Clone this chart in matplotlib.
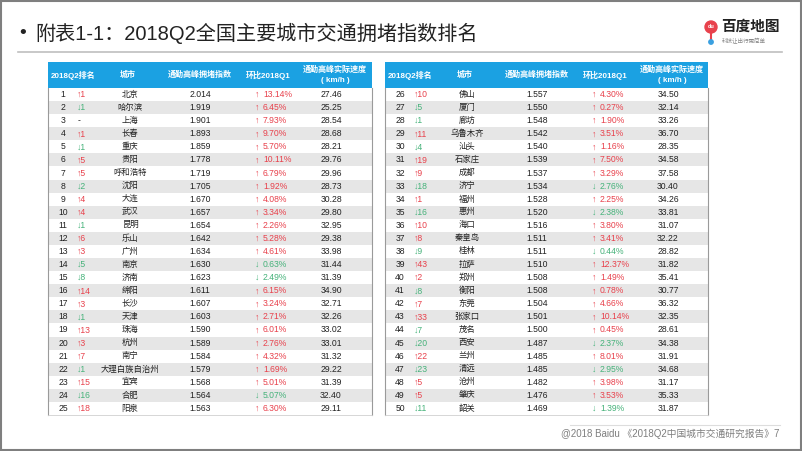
import matplotlib.pyplot as plt
from matplotlib.patches import Rectangle, Circle

plt.rcParams['font.family'] = ['Liberation Sans', 'Noto Sans CJK SC', 'DejaVu Sans']

title = "附表1-1：2018Q2全国主要城市交通拥堵指数排名"
headers = ["2018Q2排名", "城市", "通勤高峰拥堵指数", "环比2018Q1", "通勤高峰实际速度\n( km/h )"]
footer = "@2018 Baidu 《2018Q2中国城市交通研究报告》7"

ranks = list(range(1, 51))
rank_change = [1, -1, 0, 1, -1, 5, 5, -2, 4, 4, -1, 6, 3, -5, -8, 14, 3, -1, 13, 3, 7, -1, 15, -16, 18,
               10, -5, -1, 11, -4, 19, 9, -18, 1, -16, 10, 8, -9, 43, 2, -8, 7, 33, -7, -20, 22, -23, 5, 5, -11]
cities = ["北京", "哈尔滨", "上海", "长春", "重庆", "贵阳", "呼和浩特", "沈阳", "大连", "武汉",
          "昆明", "乐山", "广州", "南京", "济南", "绵阳", "长沙", "天津", "珠海", "杭州",
          "南宁", "大理白族自治州", "宜宾", "合肥", "阳泉",
          "佛山", "厦门", "廊坊", "乌鲁木齐", "汕头", "石家庄", "成都", "济宁", "福州", "惠州",
          "海口", "秦皇岛", "桂林", "拉萨", "郑州", "衡阳", "东莞", "张家口", "茂名", "西安",
          "兰州", "清远", "沧州", "肇庆", "韶关"]
jam_index = [2.014, 1.919, 1.901, 1.893, 1.859, 1.778, 1.719, 1.705, 1.670, 1.657,
             1.654, 1.642, 1.634, 1.630, 1.623, 1.611, 1.607, 1.603, 1.590, 1.589,
             1.584, 1.579, 1.568, 1.564, 1.563,
             1.557, 1.550, 1.548, 1.542, 1.540, 1.539, 1.537, 1.534, 1.528, 1.520,
             1.516, 1.511, 1.511, 1.510, 1.508, 1.508, 1.504, 1.501, 1.500, 1.487,
             1.485, 1.485, 1.482, 1.476, 1.469]
qoq = [13.14, 6.45, 7.93, 9.70, 5.70, 10.11, 6.79, 1.92, 4.08, 3.34,
       2.26, 5.28, 4.61, -0.63, -2.49, 6.15, 3.24, 2.71, 6.01, 2.76,
       4.32, 1.69, 5.01, -5.07, 6.30,
       4.30, 0.27, 1.90, 3.51, 1.16, 7.50, 3.29, -2.76, 2.25, -2.38,
       3.80, 3.41, -0.44, 12.37, 1.49, 0.78, 4.66, 10.14, 0.45, -2.37,
       8.01, -2.95, 3.98, 3.53, -1.39]
speed = [27.46, 25.25, 28.54, 28.68, 28.21, 29.76, 29.96, 28.73, 30.28, 29.80,
         32.95, 29.38, 33.98, 31.44, 31.39, 34.90, 32.71, 32.26, 33.02, 33.01,
         31.32, 29.22, 31.39, 32.40, 29.11,
         34.50, 32.14, 33.26, 36.70, 28.35, 34.58, 37.58, 30.40, 34.26, 33.81,
         31.07, 32.22, 28.82, 31.82, 35.41, 30.77, 36.32, 32.35, 28.61, 34.38,
         31.91, 34.68, 31.17, 35.33, 31.87]

BLUE = "#1ba1e2"
RED = "#e8414c"
GREEN = "#46b27a"
GRAY_ROW = "#e6e6e6"

fig = plt.figure(figsize=(8.02, 4.51), dpi=100)
ax = fig.add_axes([0, 0, 1, 1])
ax.set_xlim(0, 802)
ax.set_ylim(451, 0)
ax.axis("off")

# slide frame
ax.add_patch(Rectangle((0.8, 0.8), 800.4, 449.4, fill=False, ec="#7f7f7f", lw=1.5))

# title
ax.text(19, 33, "•", fontsize=14, va="center", ha="left", color="#222222")
ax.text(35, 33, title, fontsize=14.5, va="center", ha="left", color="#222222")
ax.plot([18, 782], [52, 52], color="#bfbfbf", lw=1.2)

# logo
ax.add_patch(Circle((711, 27), 6, color="#e8414c", zorder=3))
ax.plot([711, 711], [32, 42], color="#e8414c", lw=1.5)
ax.add_patch(Circle((711, 42), 2.2, color="#3aa0e0", zorder=3))
ax.text(711, 27, "du", fontsize=4, color="white", ha="center", va="center", zorder=4, fontweight="bold")
ax.text(721, 27, "百度地图", fontsize=10.5, fontweight="bold", ha="left", va="center", color="#222222")
ax.text(722, 41, "科技让出行更简单", fontsize=4, ha="left", va="center", color="#888888")

head_top, head_bot = 62, 88
row_h = 13.08
tables = [(48, 324, 0), (385, 323, 25)]
head_x = [25, 80, 152, 220, 287]

for x0, w, start in tables:
    ax.add_patch(Rectangle((x0, head_top), w, head_bot - head_top, color=BLUE, lw=0))
    for hx, h in zip(head_x, headers):
        ax.text(x0 + hx, (head_top + head_bot) / 2, h, fontsize=5.8, fontweight="bold",
                color="white", ha="center", va="center", linespacing=1.6)
    for k in range(25):
        i = start + k
        top = head_bot + k * row_h
        yc = top + row_h / 2
        if k % 2 == 1:
            ax.add_patch(Rectangle((x0, top), w, row_h, color=GRAY_ROW, lw=0))
        ax.text(x0 + 15, yc, str(ranks[i]), fontsize=6.2, ha="center", va="center", color="#222222")
        rc = rank_change[i]
        if rc > 0:
            ax.text(x0 + 29, yc, "↑" + str(rc), fontsize=6.2, ha="left", va="center", color=RED)
        elif rc < 0:
            ax.text(x0 + 29, yc, "↓" + str(-rc), fontsize=6.2, ha="left", va="center", color=GREEN)
        else:
            ax.text(x0 + 30, yc, "-", fontsize=6.2, ha="left", va="center", color="#222222")
        ax.text(x0 + 82, yc, cities[i], fontsize=6, ha="center", va="center", color="#222222")
        ax.text(x0 + 152, yc, f"{jam_index[i]:.3f}", fontsize=6.2, ha="center", va="center", color="#222222")
        q = qoq[i]
        col = RED if q >= 0 else GREEN
        arrow = "↑" if q >= 0 else "↓"
        ax.text(x0 + 207, yc, arrow, fontsize=6.2, ha="left", va="center", color=col)
        ax.text(x0 + 215, yc, f"{abs(q):.2f}%", fontsize=6.2, ha="left", va="center", color=col)
        ax.text(x0 + 283, yc, f"{speed[i]:.2f}", fontsize=6.2, ha="center", va="center", color="#222222")
    bottom = head_bot + 25 * row_h
    ax.plot([x0, x0], [head_bot, bottom], color="#9a9a9a", lw=0.8)
    ax.plot([x0 + w, x0 + w], [head_bot, bottom], color="#9a9a9a", lw=0.8)
    ax.plot([x0, x0 + w], [bottom, bottom], color="#d0d0d0", lw=0.6)

# footer
ax.plot([570, 780], [425, 425], color="#dddddd", lw=0.8)
ax.text(779, 434, footer, fontsize=7, ha="right", va="center", color="#7f7f7f")

fig.savefig("out.png", dpi=100)
